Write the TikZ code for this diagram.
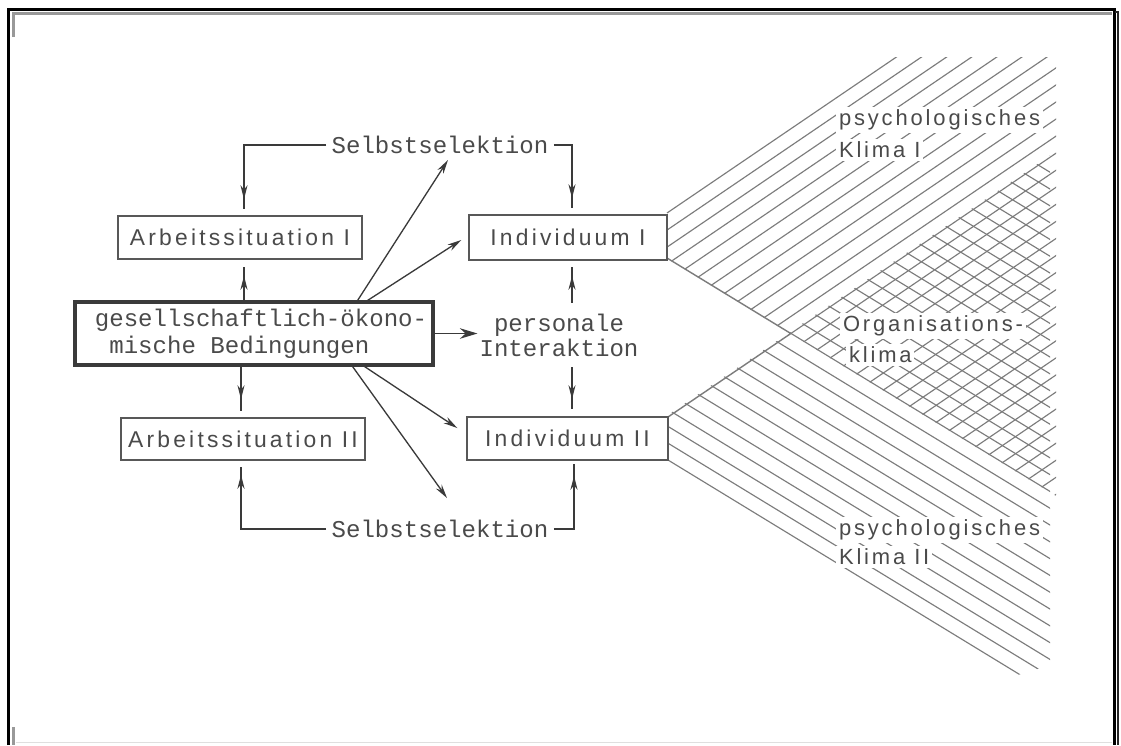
\documentclass[tikz,border=0pt]{standalone}
\usepackage{fontspec}
\usetikzlibrary{arrows.meta,decorations.markings}
\newfontfamily\typefont{Liberation Mono}
\newfontfamily\boxfont[LetterSpace=14]{Liberation Sans}
\newfontfamily\areafont[LetterSpace=13]{Liberation Sans}
\definecolor{ink}{HTML}{3A3A3A}
\definecolor{txt}{HTML}{4A4A4A}
\definecolor{hatchgray}{HTML}{7C7C7C}
\begin{document}
\begin{tikzpicture}[x=0.02cm,y=-0.02cm,
  box/.style={draw=ink!85,line width=0.85pt,inner sep=0pt,text=txt,
    font=\boxfont\fontsize{13pt}{15pt}\selectfont},
  mainbox/.style={draw=ink,line width=1.8pt,text=txt,
    font=\typefont\fontsize{13.7pt}{15.3pt}\selectfont},
  typed/.style={text=txt,font=\typefont\fontsize{13.7pt}{14.3pt}\selectfont,inner sep=3pt},
  area/.style={text=txt,font=\areafont\fontsize{12.5pt}{15pt}\selectfont,
    fill=white,inner sep=1.5pt,anchor=west},
  conn/.style={draw=ink,line width=0.75pt},
  hatchline/.style={draw=hatchgray,line width=0.65pt},
  headnear/.style={postaction={decorate},decoration={markings,
    mark=at position -#1 with {\arrow{Stealth[length=8pt,width=4pt]}}}},
  headend/.style={-{Stealth[length=8pt,width=4pt]}}
]
\useasboundingbox[fill=white] (0,0) rectangle (1121,745);

% frame
\draw[black,line width=1.7pt] (8.5,745) -- (8.5,9) -- (1114.5,9) -- (1114.5,745);
\draw[black!85,line width=1.2pt] (1114.5,12) -- (1118,12) -- (1118,745);
\draw[gray!80,line width=1.4pt] (13.5,37) -- (13.5,13.5) -- (1112,13.5);
\draw[gray!80,line width=1.4pt] (13.5,727) -- (13.5,745);
\draw[gray!25,line width=0.8pt] (16,742.5) -- (1112,742.5);

% upper band: rising hatch
\begin{scope}
  \clip (666,211.5) -- (893,57) -- (1056,57) -- (1056,496) -- (667,258.5) -- cycle;
  \foreach \k in {0,...,33}
    \draw[hatchline] (667,213+17.06*\k) -- ++(420,-285.6);
\end{scope}
% lower band: falling hatch
\begin{scope}
  \clip (667,415.5) -- (1050,155.5) -- (1050,665) -- (1018,675) -- (667,461.5) -- cycle;
  \foreach \k in {0,...,33}
    \draw[hatchline] (668,460-16.8*\k) -- ++(420,256.2);
\end{scope}
% inner edges of the two bands up to where they meet
\coordinate (apex) at (790.8,333.5);
\draw[hatchline,line width=0.8pt] (667,258) -- (apex) -- (668,417);

% area labels
\node[area] (psy1) at (836,120) {psychologisches};
\node[area] (kl1) at (836,150) {Klima I};
\node[area] (org) at (840,326) {Organisations-};
\node[area] (orgk) at (846,355) {klima};
\node[area] (psy2) at (836,530) {psychologisches};
\node[area] (kl2) at (836,557) {Klima II};

% boxes
\node[box,minimum width=4.88cm,minimum height=0.86cm] (arb1) at (240,237.5) {Arbeitssituation I};
\node[box,minimum width=4.88cm,minimum height=0.84cm] (arb2) at (243,439) {Arbeitssituation II};
\node[box,minimum width=3.96cm,minimum height=0.9cm] (ind1) at (568,237.5) {Individuum I\hspace{12pt}};
\node[box,minimum width=4.02cm,minimum height=0.86cm] (ind2) at (567.5,438.5) {Individuum II\hspace{7pt}};
\node[mainbox,minimum width=7.12cm,minimum height=1.26cm,align=left] (ges) at (254,333.5)
      {\hspace*{8pt}gesellschaftlich-ökono-\\\hspace*{8pt}\hspace*{0.6em}mische Bedingungen};

% free texts
\node[typed] (selT) at (440,145) {Selbstselektion};
\node[typed] (selB) at (440,529) {Selbstselektion};
\node[typed,align=center,inner xsep=1pt,inner ysep=6pt] (pers) at (559,335) {personale\\Interaktion};

% columns of the vertical connectors
\coordinate (colA) at (244,0);
\coordinate (colB) at (241,0);
\coordinate (colR) at (572,0);
\coordinate (colS) at (574,0);

% self-selection loops
\draw[conn,headnear=0.2cm] (selT.west) -| ([yshift=0.12cm]arb1.north -| colA);
\draw[conn,headnear=0.2cm] (selT.east) -| ([yshift=0.12cm]ind1.north -| colR);
\draw[conn,headnear=0.16cm] (selB.west) -| ([yshift=-0.12cm]arb2.south -| colB);
\draw[conn,headnear=0.24cm] (selB.east) -| ([yshift=-0.06cm]ind2.south -| colS);

% from the conditions to the work situations
\draw[conn,headnear=0.18cm] (ges.north -| colA) -- ([yshift=-0.14cm]arb1.south -| colA);
\draw[conn,headnear=0.24cm] (ges.south -| colB) -- ([yshift=0.12cm]arb2.north -| colB);

% personal interaction
\draw[conn,headnear=0.18cm] (pers.north -| colR) -- ([yshift=-0.12cm]ind1.south -| colR);
\draw[conn,headnear=0.2cm] (pers.south -| colR) -- ([yshift=0.14cm]ind2.north -| colR);
\draw[conn,line width=0.9pt,-{Stealth[length=10pt,width=6pt]}] (ges.east) -- (ges.east -| pers.west);

% diagonal influences
\draw[conn,headend] ([xshift=-1.54cm]ges.north east) -- ([xshift=0.16cm,yshift=-0.3cm]selT.center);
\draw[conn,headend] ([xshift=-1.34cm]ges.north east) -- ([xshift=-0.14cm,yshift=-0.05cm]ind1.west);
\draw[conn,headend] ([xshift=-1.64cm]ges.south east) -- ([xshift=0.14cm,yshift=0.62cm]selB.center);
\draw[conn,headend] ([xshift=-1.4cm]ges.south east) -- ([xshift=-0.18cm,yshift=0.21cm]ind2.west);
\end{tikzpicture}
\end{document}
